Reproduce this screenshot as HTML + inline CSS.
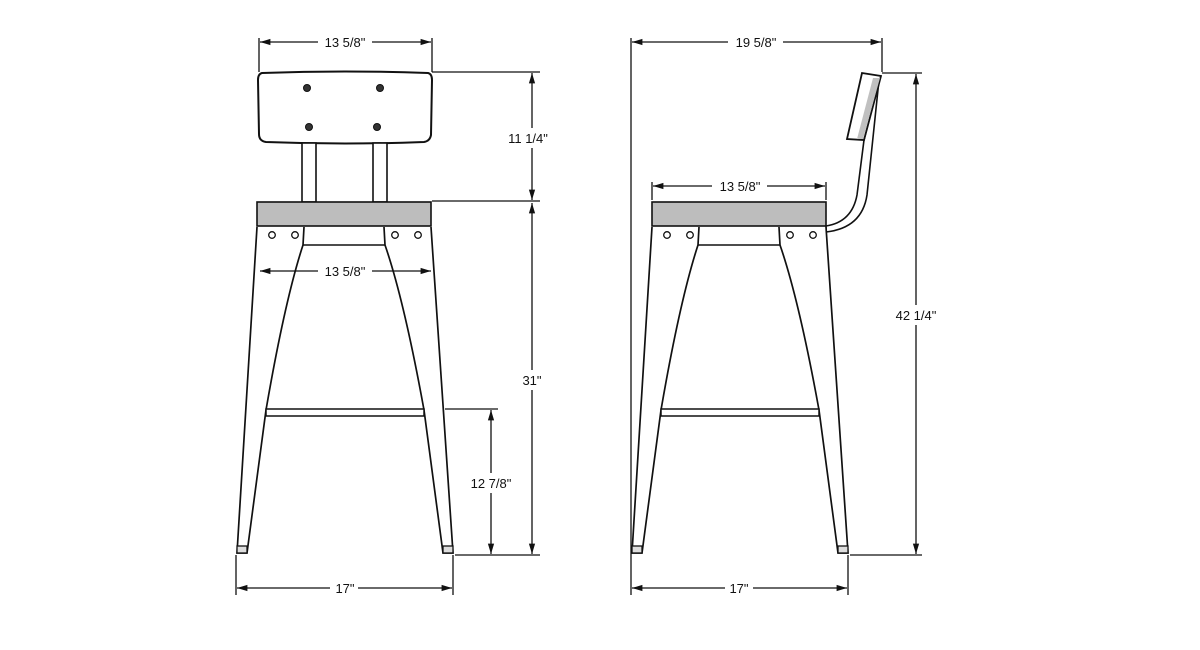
<!DOCTYPE html>
<html><head><style>
html,body{margin:0;padding:0;background:#fff;}
svg{display:block;}
text{font-family:"Liberation Sans",sans-serif;font-size:13px;fill:#111;}
</style></head><body>
<svg width="1200" height="650" viewBox="0 0 1200 650" xmlns="http://www.w3.org/2000/svg">
<defs>
<marker id="a" viewBox="0 0 10 10" refX="10" refY="5" markerWidth="8" markerHeight="8" orient="auto-start-reverse"><path d="M0,2 L10,5 L0,8 z" fill="#111"/></marker>
</defs>
<g stroke="#111" stroke-width="1.3" fill="none">
<!-- FRONT VIEW -->
<path d="M262,73 Q345,70 428,73 Q432,74 432,80 L431,135 Q430,141 424,142 Q345,145 266,142 Q259,141 259,134 L258,80 Q258,74 262,73 Z" fill="#fff" stroke-width="2"/>
<rect x="302" y="143" width="14" height="59" fill="#fff" stroke-width="1.6"/>
<rect x="373" y="143" width="14" height="59" fill="#fff" stroke-width="1.6"/>
<rect x="257" y="202" width="174" height="24" fill="#bdbdbd" stroke-width="1.6"/>
<path d="M257,227 L237,553 L247,553 L266,410 Q285,300 303,245 L304,227" fill="#fff" stroke-width="1.7"/>
<path d="M431,227 L453,553 L443,553 L424,410 Q404,300 385,245 L384,227" fill="#fff" stroke-width="1.7"/>
<line x1="303" y1="245" x2="385" y2="245" stroke-width="1.6"/>
<rect x="237" y="546" width="10" height="7" fill="#ddd"/>
<rect x="443" y="546" width="10" height="7" fill="#ddd"/>
<rect x="266" y="409" width="158" height="7" fill="#fff" stroke-width="1.5"/>
<!-- dims front -->
<line x1="259" y1="38" x2="259" y2="72"/><line x1="432" y1="38" x2="432" y2="72"/>
<line x1="260" y1="42" x2="318" y2="42" marker-start="url(#a)"/><line x1="372" y1="42" x2="431" y2="42" marker-end="url(#a)"/>
<line x1="260" y1="271" x2="318" y2="271" marker-start="url(#a)"/><line x1="372" y1="271" x2="431" y2="271" marker-end="url(#a)"/>
<line x1="432" y1="72" x2="540" y2="72"/><line x1="432" y1="201" x2="540" y2="201"/>
<line x1="532" y1="73" x2="532" y2="128" marker-start="url(#a)"/><line x1="532" y1="148" x2="532" y2="200" marker-end="url(#a)"/>
<line x1="532" y1="203" x2="532" y2="370" marker-start="url(#a)"/><line x1="532" y1="390" x2="532" y2="554" marker-end="url(#a)"/>
<line x1="445" y1="409" x2="498" y2="409"/><line x1="455" y1="555" x2="540" y2="555"/>
<line x1="491" y1="410" x2="491" y2="473" marker-start="url(#a)"/><line x1="491" y1="493" x2="491" y2="554" marker-end="url(#a)"/>
<line x1="236" y1="555" x2="236" y2="595"/><line x1="453" y1="555" x2="453" y2="595"/>
<line x1="237" y1="588" x2="330" y2="588" marker-start="url(#a)"/><line x1="358" y1="588" x2="452" y2="588" marker-end="url(#a)"/>

<!-- SIDE VIEW -->
<path d="M864,140 L857,195 Q852,222 826,226 L826,232 Q862,228 867,195 L879,80 Z" fill="#fff" stroke-width="1.6"/>
<path d="M862,73 L881,76 L864,140 L847,139 Z" fill="#fff" stroke-width="1.8"/>
<path d="M873,78 L880,78 L863,139 L857,139 Z" fill="#c0c0c0" stroke="none"/>
<rect x="652" y="202" width="174" height="24" fill="#bdbdbd" stroke-width="1.6"/>
<path d="M652,227 L632,553 L642,553 L661,410 Q680,300 698,245 L699,227" fill="#fff" stroke-width="1.7"/>
<path d="M826,227 L848,553 L838,553 L819,410 Q799,300 780,245 L779,227" fill="#fff" stroke-width="1.7"/>
<line x1="698" y1="245" x2="780" y2="245" stroke-width="1.6"/>
<rect x="632" y="546" width="10" height="7" fill="#ddd"/>
<rect x="838" y="546" width="10" height="7" fill="#ddd"/>
<rect x="661" y="409" width="158" height="7" fill="#fff" stroke-width="1.5"/>
<!-- dims side -->
<line x1="631" y1="38" x2="631" y2="595"/><line x1="882" y1="38" x2="882" y2="72"/>
<line x1="632" y1="42" x2="728" y2="42" marker-start="url(#a)"/><line x1="783" y1="42" x2="881" y2="42" marker-end="url(#a)"/>
<line x1="652" y1="182" x2="652" y2="200"/><line x1="826" y1="182" x2="826" y2="200"/>
<line x1="653" y1="186" x2="712" y2="186" marker-start="url(#a)"/><line x1="767" y1="186" x2="825" y2="186" marker-end="url(#a)"/>
<line x1="882" y1="73" x2="922" y2="73"/><line x1="850" y1="555" x2="922" y2="555"/>
<line x1="916" y1="74" x2="916" y2="305" marker-start="url(#a)"/><line x1="916" y1="325" x2="916" y2="554" marker-end="url(#a)"/>
<line x1="848" y1="555" x2="848" y2="595"/>
<line x1="632" y1="588" x2="725" y2="588" marker-start="url(#a)"/><line x1="753" y1="588" x2="847" y2="588" marker-end="url(#a)"/>
</g>
<g fill="#333" stroke="#111"><circle cx="307" cy="88" r="3.5"/><circle cx="380" cy="88" r="3.5"/><circle cx="309" cy="127" r="3.5"/><circle cx="377" cy="127" r="3.5"/></g>
<g fill="#fff" stroke="#111" stroke-width="1.3">
<circle cx="272" cy="235" r="3.3"/><circle cx="295" cy="235" r="3.3"/><circle cx="395" cy="235" r="3.3"/><circle cx="418" cy="235" r="3.3"/>
<circle cx="667" cy="235" r="3.3"/><circle cx="690" cy="235" r="3.3"/><circle cx="790" cy="235" r="3.3"/><circle cx="813" cy="235" r="3.3"/>
</g>
<text x="345" y="47" text-anchor="middle">13 5/8"</text>
<text x="345" y="276" text-anchor="middle">13 5/8"</text>
<text x="528" y="143" text-anchor="middle">11 1/4"</text>
<text x="532" y="385" text-anchor="middle">31"</text>
<text x="491" y="488" text-anchor="middle">12 7/8"</text>
<text x="345" y="593" text-anchor="middle">17"</text>
<text x="756" y="47" text-anchor="middle">19 5/8"</text>
<text x="740" y="191" text-anchor="middle">13 5/8"</text>
<text x="916" y="320" text-anchor="middle">42 1/4"</text>
<text x="739" y="593" text-anchor="middle">17"</text>
</svg>
</body></html>
